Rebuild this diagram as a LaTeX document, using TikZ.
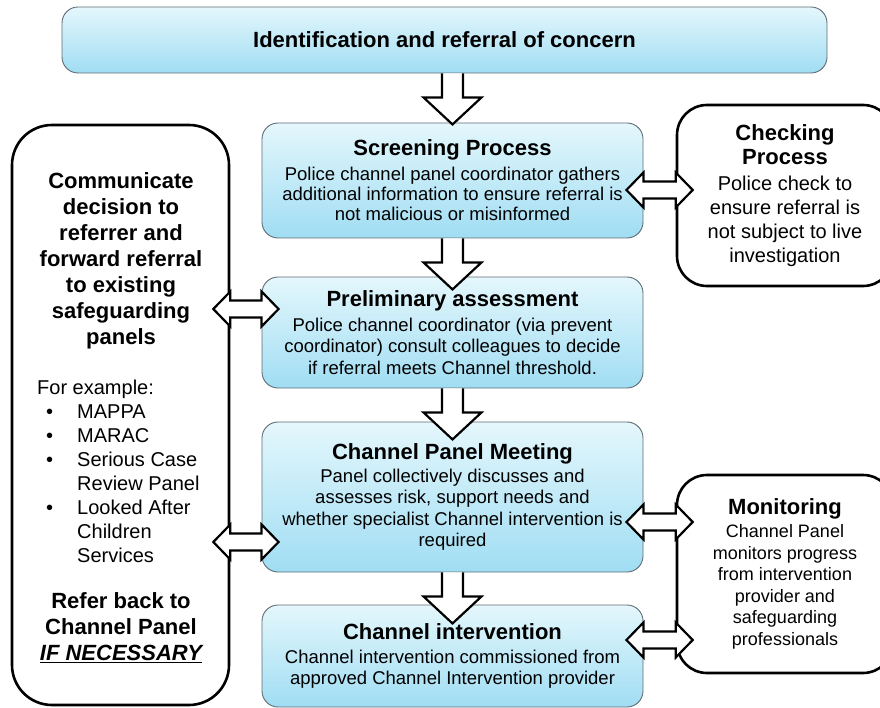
\documentclass[tikz,border=0pt]{standalone}
\usepackage{fontspec}
\setmainfont{Liberation Sans}
\usetikzlibrary{calc}

\definecolor{celeste}{RGB}{228,247,252}
\definecolor{celesteoscuro}{RGB}{160,221,243}
\definecolor{bordecaja}{RGB}{95,108,115}

% titulos en negrita
\newcommand{\titulo}[1]{{\bfseries\fontsize{22}{24}\selectfont #1}}
% viñeta de la lista
\newcommand{\punto}{\makebox[40pt][l]{\hspace{9pt}\textbullet}}

\tikzset{
  caja/.style={draw=bordecaja, line width=0.9pt, rounded corners=16pt,
    top color=celeste, bottom color=celesteoscuro, inner sep=0pt,
    align=center, font=\fontsize{18.5}{21.5}\selectfont},
  marco/.style={draw=black, line width=2.6pt, fill=white, inner sep=0pt},
  flecha/.style={draw=black, fill=white, line width=2.2pt, line join=miter},
  % flecha gruesa hacia abajo: sale de la caja de arriba
  bajada/.style={flecha, to path={
    let \p1=(\tikztostart.south), \p2=(\tikztotarget.north) in
    (\x2-10.5pt,\y1) -- (\x2-10.5pt,\y1-24pt) -- (\x2-29pt,\y1-24pt)
    -- (\x2,\y1-51pt) -- (\x2+29pt,\y1-24pt) -- (\x2+10.5pt,\y1-24pt)
    -- (\x2+10.5pt,\y1)}},
  % flecha gruesa de dos puntas entre dos cajas
  doble/.style={flecha, to path={
    let \p1=(\tikztostart), \p2=(\tikztotarget) in
    (\x1-17pt,\y1) -- (\x1,\y1+17.5pt) -- (\x1,\y1+8.5pt) -- (\x2,\y1+8.5pt)
    -- (\x2,\y1+17.5pt) -- (\x2+17pt,\y1) -- (\x2,\y1-17.5pt) -- (\x2,\y1-8.5pt)
    -- (\x1,\y1-8.5pt) -- (\x1,\y1-17.5pt) -- cycle}}
}

\begin{document}
\begin{tikzpicture}[x=1pt, y=-1pt]
% Marco de la figura: 880 x 708, el eje y hacia abajo
\useasboundingbox (0,0) rectangle (880,708);

% Cajas azules del proceso
\node[caja, minimum width=765pt, minimum height=66pt] (ident) at (444.5,40)
  {\titulo{Identification and referral of concern}};
\node[caja, font=\fontsize{18.5}{20}\selectfont, minimum width=381pt, minimum height=115pt] (screening) at (452.5,180.5)
  {\titulo{Screening Process}\\[5pt]
   Police channel panel coordinator gathers\\
   additional information to ensure referral is\\
   not malicious or misinformed};
\node[caja, minimum width=381pt, minimum height=111pt] (prelim) at (452.5,332.5)
  {\titulo{Preliminary assessment}\\[3pt]
   Police channel coordinator (via prevent\\
   coordinator) consult colleagues to decide\\
   if referral meets Channel threshold.};
\node[caja, minimum width=381pt, minimum height=150pt] (panel) at (452.5,497)
  {\titulo{Channel Panel Meeting}\\[1.5pt]
   Panel collectively discusses and\\
   assesses risk, support needs and\\
   whether specialist Channel intervention is\\
   required};
\node[caja, minimum width=381pt, minimum height=102pt] (inter) at (452.5,656)
  {\titulo{Channel intervention}\\[2.5pt]
   Channel intervention commissioned from\\
   approved Channel Intervention provider};

% Cajas blancas de los lados
\node[marco, rounded corners=40pt, minimum width=217pt, minimum height=580pt] (comunicar) at (120.5,415) {};
\node[align=center, font=\bfseries\fontsize{22}{26}\selectfont] (decision) at (121,261)
  {Communicate\\decision to\\referrer and\\forward referral\\to existing\\safeguarding\\panels};
\node[align=left, anchor=west, inner sep=0pt, font=\fontsize{20}{24}\selectfont] (ejemplos) at (37,471)
  {For example:\\
   \punto MAPPA\\
   \punto MARAC\\
   \punto Serious Case\\
   \hspace*{40pt}Review Panel\\
   \punto Looked After\\
   \hspace*{40pt}Children\\
   \hspace*{40pt}Services};
\node[align=center, font=\bfseries\fontsize{22}{26}\selectfont] (volver) at (121,628)
  {Refer back to\\Channel Panel\\\underline{\itshape IF NECESSARY}};

\node[marco, rounded corners=30pt, minimum width=216pt, minimum height=181pt,
  align=center, font=\fontsize{20}{24}\selectfont] (checking) at (785,195.5)
  {\titulo{Checking}\\ \titulo{Process}\\[2pt]
   Police check to\\ ensure referral is\\ not subject to live\\ investigation};
\node[marco, rounded corners=30pt, minimum width=216pt, minimum height=198pt,
  align=center, font=\fontsize{18}{21.5}\selectfont] (monitoring) at (785,574)
  {\titulo{Monitoring}\\[1.5pt]
   Channel Panel\\ monitors progress\\ from intervention\\ provider and\\
   safeguarding\\ professionals};

% Flechas hacia abajo entre las cajas azules
\draw[bajada] (ident) to (screening);
\draw[bajada] (screening) to (prelim);
\draw[bajada] (prelim) to (panel);
\draw[bajada] (panel) to (inter);

% Flechas dobles: (a |- 0,y) es el punto del borde a la altura y
\draw[doble] (screening.east |- 0,190) to (checking.west |- 0,190);
\draw[doble] (comunicar.east |- 0,309) to (prelim.west |- 0,309);
\draw[doble] (comunicar.east |- 0,542) to (panel.west |- 0,542);
\draw[doble] (panel.east |- 0,522) to (monitoring.west |- 0,522);
\draw[doble] (inter.east |- 0,640) to (monitoring.west |- 0,640);
\end{tikzpicture}
\end{document}
